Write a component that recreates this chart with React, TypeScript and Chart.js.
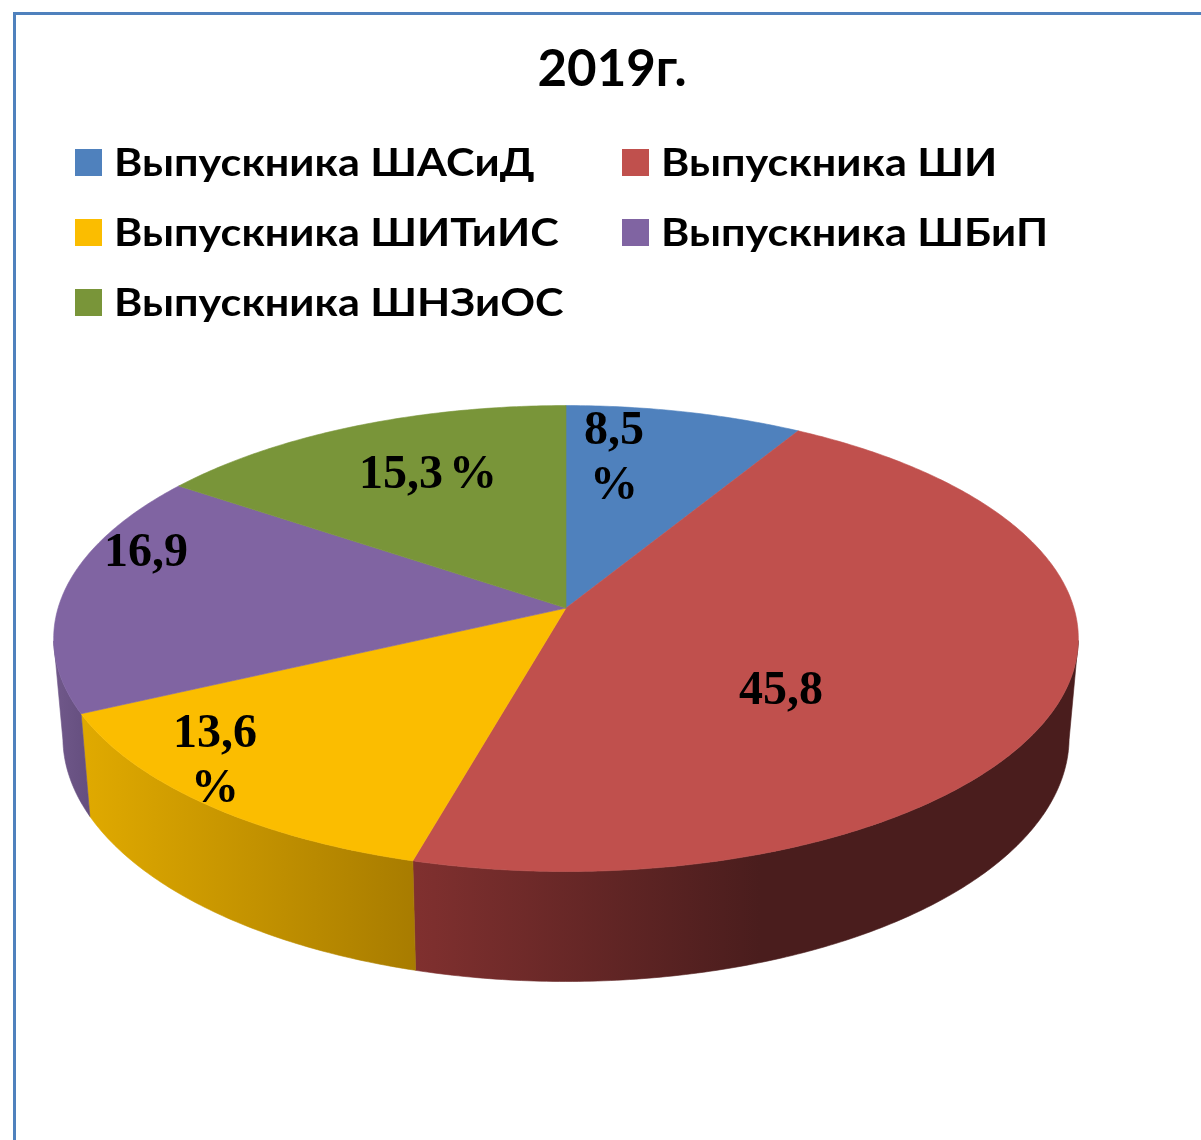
import React, { useEffect, useRef } from "react";
import { Chart, registerables } from "chart.js";

Chart.register(...registerables);

const titleText = "2019г.";
const categories = [
  "Выпускника ШАСиД",
  "Выпускника ШИ",
  "Выпускника ШИТиИС",
  "Выпускника ШБиП",
  "Выпускника ШНЗиОС",
];
const seriesValues = [8.5, 45.8, 13.6, 16.9, 15.3];
const sliceColors = ["#4F81BD", "#C0504D", "#FBBD00", "#8064A2", "#799539"];
const valueLabels = [["8,5", "%"], ["45,8"], ["13,6", "%"], ["16,9"], ["15,3 %"]];

// Presentation only: wall shading, label anchors (offset from pie centre), legend cells
const wallStops = [
  ["#3F6797", "#3F6797", 0, 1201],
  ["#80302F", "#4A1D1D", 415, 760],
  ["#DFA900", "#A87C00", 88, 415],
  ["#70588A", "#644E7E", 55, 90],
  ["#61772E", "#61772E", 0, 1201],
] as const;
const labelOffsets = [[48, -177], [215, 83], [-351, 126], [-420, -55], [-138, -133]];
const legendCells = [[75, 162], [622, 162], [75, 232], [622, 232], [75, 302]];

// Perspective of the tilted disc, as ratios of the pie radius the library computes
const TILT = 0.1306;
const A_RATIO = 1.129;
const B_RATIO = 0.509;
const BOTTOM_SX = 0.982;
const BOTTOM_SY = 1.047;
const DEPTH_RATIO = 0.217;
const SILHOUETTE_V = -0.13; // wall is seen only on the near side of this line
const CENTER_SHIFT_X = -46; // the disc sits left of the title's centre line
const LEGEND_STRETCH = 1.135;

function project(el: any, angle: number) {
  const t = angle + Math.PI / 2;
  const u = Math.sin(t);
  const v = Math.cos(t);
  const k = 1 / (1 + TILT * v);
  return { x: el.outerRadius * A_RATIO * u * k, y: -el.outerRadius * B_RATIO * v * k, v };
}

function samples(start: number, end: number) {
  const n = Math.max(2, Math.ceil((end - start) * 90));
  const out: number[] = [];
  for (let i = 0; i <= n; i++) out.push(start + ((end - start) * i) / n);
  return out;
}

const pie3d = {
  id: "pie3d",
  beforeDatasetsDraw(chart: any) {
    const ctx = chart.ctx;
    const arcs = chart.getDatasetMeta(0).data;

    arcs.forEach((el: any, i: number) => {
      const cx = el.x + CENTER_SHIFT_X;
      const pts = samples(el.startAngle, el.endAngle)
        .map((a) => project(el, a))
        .filter((p) => p.v < SILHOUETTE_V);
      if (pts.length < 2) return;
      const depth = el.outerRadius * DEPTH_RATIO;
      const [c0, c1, x0, x1] = wallStops[i];
      const g = ctx.createLinearGradient(x0, 0, x1, 0);
      g.addColorStop(0, c0);
      g.addColorStop(1, c1);
      ctx.beginPath();
      pts.forEach((p, j) => {
        if (j === 0) ctx.moveTo(cx + p.x, el.y + p.y);
        else ctx.lineTo(cx + p.x, el.y + p.y);
      });
      [...pts].reverse().forEach((p) => {
        ctx.lineTo(cx + p.x * BOTTOM_SX, el.y + p.y * BOTTOM_SY + depth);
      });
      ctx.closePath();
      ctx.fillStyle = g;
      ctx.strokeStyle = g;
      ctx.lineWidth = 0.6;
      ctx.fill();
      ctx.stroke();
    });

    arcs.forEach((el: any) => {
      const cx = el.x + CENTER_SHIFT_X;
      ctx.beginPath();
      ctx.moveTo(cx, el.y);
      samples(el.startAngle, el.endAngle).forEach((a) => {
        const p = project(el, a);
        ctx.lineTo(cx + p.x, el.y + p.y);
      });
      ctx.closePath();
      ctx.fillStyle = el.options.backgroundColor;
      ctx.strokeStyle = el.options.backgroundColor;
      ctx.lineWidth = 0.6;
      ctx.fill();
      ctx.stroke();
    });
    return false;
  },
  afterDraw(chart: any) {
    const ctx = chart.ctx;
    const arcs = chart.getDatasetMeta(0).data;
    ctx.save();
    ctx.fillStyle = "#000";
    ctx.font = 'bold 48px "Liberation Serif"';
    ctx.textAlign = "center";
    ctx.textBaseline = "middle";
    (ctx as any).wordSpacing = "-6px";
    valueLabels.forEach((lines, i) => {
      lines.forEach((line, j) => {
        ctx.fillText(
          line,
          arcs[i].x + CENTER_SHIFT_X + labelOffsets[i][0],
          arcs[i].y + labelOffsets[i][1] + j * 55
        );
      });
    });
    ctx.restore();

    categories.forEach((name, i) => {
      const [x, y] = legendCells[i];
      ctx.fillStyle = sliceColors[i];
      ctx.fillRect(x, y - 13, 27, 27);
      ctx.save();
      ctx.translate(x + 39, y + 2);
      ctx.scale(LEGEND_STRETCH, 1);
      ctx.textAlign = "left";
      ctx.textBaseline = "middle";
      ctx.font = "bold 38px Lato";
      ctx.fillStyle = "#000";
      ctx.fillText(name, 0, 0);
      ctx.restore();
    });
  },
};

export default function App() {
  const ref = useRef<HTMLCanvasElement>(null);
  useEffect(() => {
    const chart = new Chart(ref.current!, {
      type: "pie",
      data: {
        labels: categories,
        datasets: [{ data: seriesValues, backgroundColor: sliceColors, borderWidth: 0 }],
      },
      plugins: [pie3d],
      options: {
        responsive: false,
        animation: false,
        layout: { padding: { left: 0, right: 0, top: 0, bottom: 82 } },
        plugins: {
          legend: { display: false },
          tooltip: { enabled: false },
          title: {
            display: true,
            text: titleText,
            color: "#000",
            font: { family: "Lato", size: 51, weight: "bold" },
            padding: { top: 39, bottom: 58 },
          },
        },
      },
    } as any);
    return () => chart.destroy();
  }, []);
  return (
    <div style={{ position: "fixed", left: 0, top: 0, width: 1201, height: 1140, overflow: "hidden", background: "#fff" }}>
      <div
        style={{
          position: "absolute",
          left: 13,
          top: 12,
          width: 1400,
          height: 1400,
          border: "3px solid #4F81BD",
          boxSizing: "border-box",
        }}
      />
      <canvas
        ref={ref}
        width={1224}
        height={1140}
        style={{ position: "absolute", left: 0, top: 0, width: 1224, height: 1140 }}
      />
    </div>
  );
}
